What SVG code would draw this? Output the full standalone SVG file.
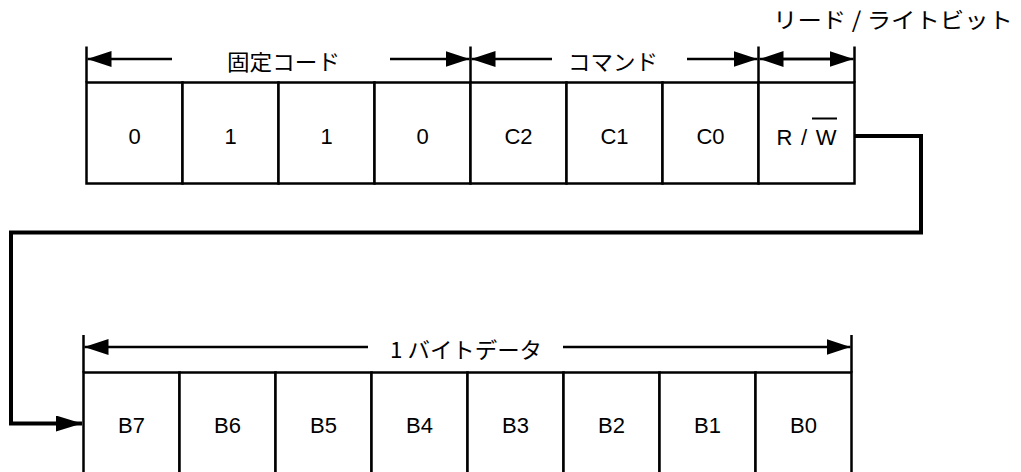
<svg xmlns="http://www.w3.org/2000/svg" width="1021" height="472" viewBox="0 0 1021 472">
<style>
.cell{fill:#fff;stroke:#000;stroke-width:2.5}
.t{font-family:"Liberation Sans","Noto Sans CJK JP",sans-serif;font-size:22px;fill:#000;text-anchor:middle}
.j{font-family:"Noto Sans CJK JP","Liberation Sans",sans-serif;font-size:22px;fill:#000}
.dim{stroke:#000;stroke-width:2.5;fill:none}
.conn{stroke:#000;stroke-width:4;fill:none}
</style>
<defs>
<marker id="ah" viewBox="0 0 24 16" refX="24" refY="8" markerWidth="24" markerHeight="16" markerUnits="userSpaceOnUse" orient="auto"><path d="M0,0 L24,8 L0,16 Z" fill="#000"/></marker>
<marker id="ahc" viewBox="0 0 26 16" refX="26" refY="8" markerWidth="26" markerHeight="16" markerUnits="userSpaceOnUse" orient="auto"><path d="M0,0 L26,8 L0,16 Z" fill="#000"/></marker>
</defs>
<rect width="1021" height="472" fill="#fff"/>
<g id="top-row">
<g id="b0"><rect class="cell" x="86.5" y="82.5" width="96" height="101"/><text class="t" x="134.5" y="144">0</text></g>
<g id="b1"><rect class="cell" x="182.5" y="82.5" width="96" height="101"/><text class="t" x="230.5" y="144">1</text></g>
<g id="b2"><rect class="cell" x="278.5" y="82.5" width="96" height="101"/><text class="t" x="326.5" y="144">1</text></g>
<g id="b3"><rect class="cell" x="374.5" y="82.5" width="96" height="101"/><text class="t" x="422.5" y="144">0</text></g>
<g id="c2"><rect class="cell" x="470.5" y="82.5" width="96" height="101"/><text class="t" x="518.5" y="144">C2</text></g>
<g id="c1"><rect class="cell" x="566.5" y="82.5" width="96" height="101"/><text class="t" x="614.5" y="144">C1</text></g>
<g id="c0"><rect class="cell" x="662.5" y="82.5" width="96" height="101"/><text class="t" x="710.5" y="144">C0</text></g>
<g id="rw"><rect class="cell" x="758.5" y="82.5" width="96" height="101"/><text class="t" x="806.5" y="145" textLength="60" lengthAdjust="spacing">R / W</text><line x1="812" y1="118.5" x2="837" y2="118.5" stroke="#000" stroke-width="2"/></g>
</g>
<g id="bottom-row">
<g id="B7"><path class="cell" d="M83.5,472 V372.5 H179.5 V472"/><text class="t" x="131.5" y="433">B7</text></g>
<g id="B6"><path class="cell" d="M179.5,472 V372.5 H275.5 V472"/><text class="t" x="227.5" y="433">B6</text></g>
<g id="B5"><path class="cell" d="M275.5,472 V372.5 H371.5 V472"/><text class="t" x="323.5" y="433">B5</text></g>
<g id="B4"><path class="cell" d="M371.5,472 V372.5 H467.5 V472"/><text class="t" x="419.5" y="433">B4</text></g>
<g id="B3"><path class="cell" d="M467.5,472 V372.5 H563.5 V472"/><text class="t" x="515.5" y="433">B3</text></g>
<g id="B2"><path class="cell" d="M563.5,472 V372.5 H659.5 V472"/><text class="t" x="611.5" y="433">B2</text></g>
<g id="B1"><path class="cell" d="M659.5,472 V372.5 H755.5 V472"/><text class="t" x="707.5" y="433">B1</text></g>
<g id="B0"><path class="cell" d="M755.5,472 V372.5 H851.5 V472"/><text class="t" x="803.5" y="433">B0</text></g>
</g>
<g id="dimensions">
<line class="dim" x1="86.5" y1="46.5" x2="86.5" y2="82.5"/>
<line class="dim" x1="470.5" y1="46.5" x2="470.5" y2="82.5"/>
<line class="dim" x1="758.5" y1="46.5" x2="758.5" y2="82.5"/>
<line class="dim" x1="854.5" y1="46.5" x2="854.5" y2="82.5"/>
<line class="dim" x1="172" y1="59" x2="87.5" y2="59" marker-end="url(#ah)"/>
<line class="dim" x1="390" y1="59" x2="469.5" y2="59" marker-end="url(#ah)"/>
<text class="j" x="227" y="69.5" textLength="113" lengthAdjust="spacingAndGlyphs">固定コード</text>
<line class="dim" x1="552" y1="59" x2="471.5" y2="59" marker-end="url(#ah)"/>
<line class="dim" x1="687" y1="59" x2="757.5" y2="59" marker-end="url(#ah)"/>
<text class="j" x="568" y="69.5" textLength="90" lengthAdjust="spacingAndGlyphs">コマンド</text>
<line class="dim" x1="770" y1="59" x2="853.5" y2="59" marker-end="url(#ah)"/>
<line class="dim" x1="840" y1="59" x2="759.5" y2="59" marker-end="url(#ah)"/>
<line class="dim" x1="83.5" y1="335" x2="83.5" y2="372.5"/>
<line class="dim" x1="851.5" y1="335" x2="851.5" y2="372.5"/>
<line class="dim" x1="368" y1="347" x2="84.5" y2="347" marker-end="url(#ah)"/>
<line class="dim" x1="563" y1="347" x2="850.5" y2="347" marker-end="url(#ah)"/>
<text class="j" x="390" y="357.5" textLength="152" lengthAdjust="spacingAndGlyphs">1 バイトデータ</text>
<text class="j" x="773" y="27.5" textLength="240" lengthAdjust="spacingAndGlyphs">リード / ライトビット</text>
</g>
<g id="connectors">
<path class="conn" d="M855,136 H921 V232.5 H11 V423.5 H82" marker-end="url(#ahc)"/>
</g>
</svg>
